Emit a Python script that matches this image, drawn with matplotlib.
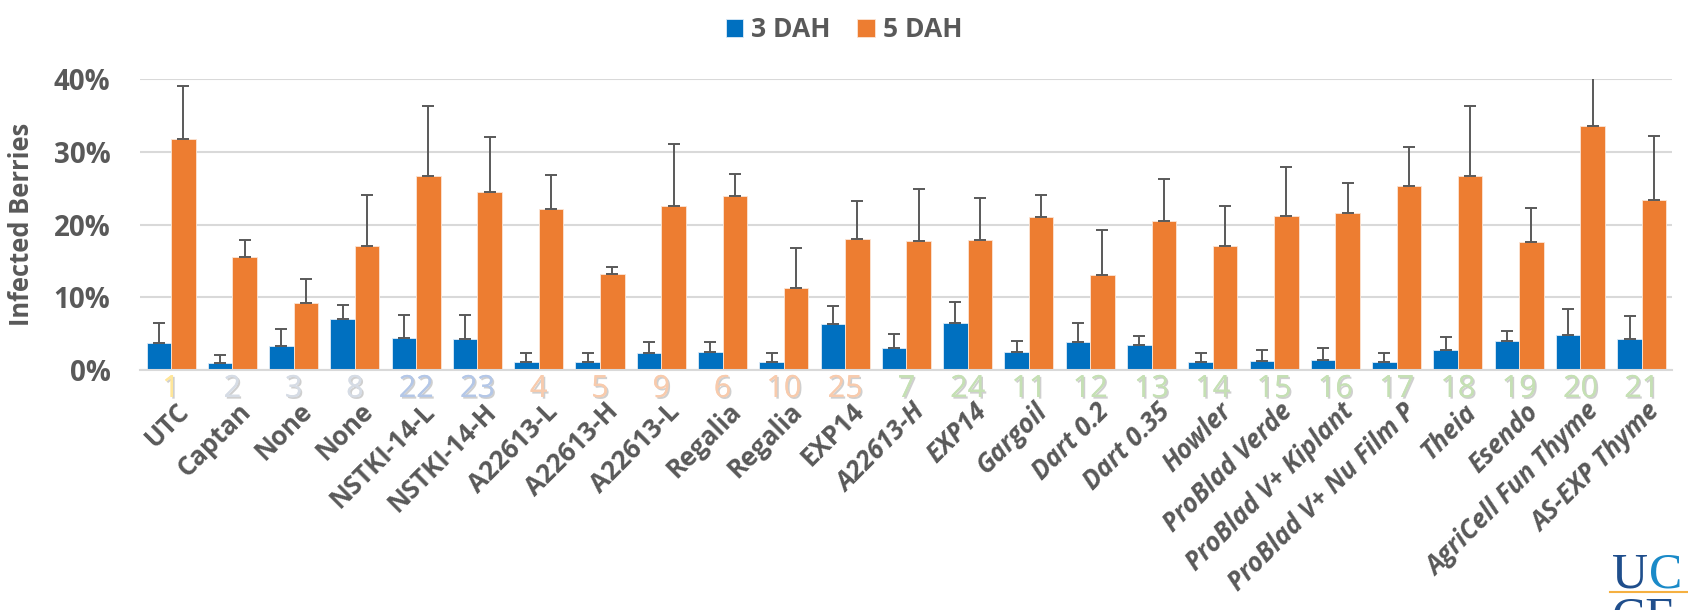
import matplotlib
matplotlib.use("Agg")
import matplotlib.pyplot as plt
import matplotlib.transforms as mtransforms
import matplotlib.patheffects as pe
import numpy as np

categories = ["UTC", "Captan", "None", "None", "NSTKI-14-L", "NSTKI-14-H", "A22613-L",
              "A22613-H", "A22613-L", "Regalia", "Regalia", "EXP14", "A22613-H", "EXP14",
              "Gargoil", "Dart 0.2", "Dart 0.35", "Howler", "ProBlad Verde",
              "ProBlad V+ Kiplant", "ProBlad V+ Nu Film P", "Theia", "Esendo",
              "AgriCell Fun Thyme", "AS-EXP Thyme"]
numbers = ["1", "2", "3", "8", "22", "23", "4", "5", "9", "6", "10", "25", "7", "24",
           "11", "12", "13", "14", "15", "16", "17", "18", "19", "20", "21"]
number_groups = ["y", "g", "g", "g", "b", "b", "p", "p", "p", "p", "p", "p", "G", "G",
                 "G", "G", "G", "G", "G", "G", "G", "G", "G", "G", "G"]

dah3 = [3.7, 1.0, 3.3, 7.0, 4.4, 4.3, 1.1, 1.1, 2.4, 2.5, 1.1, 6.3, 3.0, 6.4,
        2.5, 3.8, 3.5, 1.1, 1.3, 1.4, 1.05, 2.7, 4.0, 4.8, 4.3]
dah3_err_top = [6.4, 2.1, 5.7, 8.9, 7.6, 7.5, 2.3, 2.4, 3.9, 3.9, 2.4, 8.8, 4.9, 9.4,
                4.0, 6.4, 4.7, 2.4, 2.8, 3.0, 2.3, 4.5, 5.4, 8.4, 7.4]
dah5 = [31.7, 15.6, 9.2, 17.0, 26.6, 24.4, 22.1, 13.2, 22.6, 23.9, 11.3, 18.0, 17.7, 17.9,
        21.0, 13.0, 20.5, 17.1, 21.2, 21.6, 25.3, 26.6, 17.6, 33.5, 23.3]
dah5_err_top = [39.1, 17.9, 12.5, 24.1, 36.3, 32.0, 26.8, 14.2, 31.1, 27.0, 16.8, 23.2, 24.9, 23.7,
                24.0, 19.2, 26.2, 22.6, 27.9, 25.7, 30.6, 36.3, 22.3, 42.0, 32.1]

series_names = ["3 DAH", "5 DAH"]
yticks = [0, 10, 20, 30, 40]

BLUE = "#0070C0"
ORANGE = "#ED7D31"
GREY = "#595959"
num_colors = {"y": "#FFE699", "g": "#D6DCE5", "b": "#B4C7E7", "p": "#F8CBAD", "G": "#C5E0B4"}

plt.rcParams["font.family"] = ["Open Sans", "DejaVu Sans"]

fig = plt.figure(figsize=(16.88, 6.10), dpi=100)
ax = fig.add_axes([140.4 / 1688, 1 - 370 / 610, 1532 / 1688, 291 / 610])

x = np.arange(len(categories))
w = 0.40
e3 = np.array(dah3_err_top) - np.array(dah3)
e5 = np.array(dah5_err_top) - np.array(dah5)

ax.bar(x - w / 2, dah3, w, color=BLUE, edgecolor="#DDEBF7", linewidth=0.6, zorder=2,
       label=series_names[0])
ax.bar(x + w / 2, dah5, w, color=ORANGE, edgecolor="#FBE5D6", linewidth=0.6, zorder=2,
       label=series_names[1])
ax.errorbar(x - w / 2, dah3, yerr=[np.zeros_like(e3), e3], fmt="none", ecolor=GREY,
            elinewidth=1.4, capsize=4, capthick=1.4, zorder=3)
ax.errorbar(x + w / 2, dah5, yerr=[np.zeros_like(e5), e5], fmt="none", ecolor=GREY,
            elinewidth=1.4, capsize=4, capthick=1.4, zorder=3)

ax.set_xlim(-0.5, len(categories) - 0.5)
ax.set_ylim(0, 40)
ax.set_yticks(yticks)
ax.set_yticklabels([f"{t}%" for t in yticks], fontsize=20, fontweight="bold", color=GREY)
ax.tick_params(axis="y", length=0, pad=21.5)
ax.yaxis.grid(True, color="#D9D9D9", linewidth=1.5, zorder=0)
ax.set_axisbelow(True)
for s in ["top", "right", "left"]:
    ax.spines[s].set_visible(False)
ax.spines["bottom"].set_color("#D9D9D9")
ax.spines["bottom"].set_linewidth(1.5)
ax.set_ylabel("Infected Berries", fontsize=18.4, fontweight="bold", color=GREY)
ax.yaxis.set_label_coords(-0.0688, 0.5)

ax.set_xticks(x)
ax.set_xticklabels(categories, rotation=45, ha="right", rotation_mode="anchor",
                   fontsize=18.5, fontweight="bold", color=GREY)
ax.tick_params(axis="x", length=0, pad=20)
shift = mtransforms.ScaledTranslation(5 / 100, 0, fig.dpi_scale_trans)
for i, lab in enumerate(ax.get_xticklabels()):
    lab.set_transform(lab.get_transform() + shift)
    if i >= 12:
        lab.set_fontstyle("italic")

trans = mtransforms.blended_transform_factory(ax.transData, ax.transAxes)
for xi, num, grp in zip(x, numbers, number_groups):
    ax.text(xi, -27 / 291, num, transform=trans, ha="center", va="baseline",
            fontsize=22, color=num_colors[grp],
            path_effects=[pe.withSimplePatchShadow(offset=(1.2, -1.2), shadow_rgbFace="#A0A0A0", alpha=0.5),
                          pe.Normal()])

leg = fig.legend(loc="upper center", bbox_to_anchor=(0.5, 1.012), ncol=2, frameon=False,
                 prop={"size": 19, "weight": "bold"}, handlelength=0.67, handleheight=0.67,
                 handletextpad=0.3, columnspacing=1.0)
for t in leg.get_texts():
    t.set_color(GREY)

# UC logo fragment (bottom right)
fig.text(1612 / 1688, 1 - 587 / 610, "U", fontsize=36, color="#1F4E8C",
         family="Liberation Serif", ha="left", va="baseline")
fig.text(1649 / 1688, 1 - 587 / 610, "C", fontsize=36, color="#1A8AC8",
         family="Liberation Serif", ha="left", va="baseline")
fig.add_artist(plt.Line2D([1610 / 1688, 1.0], [1 - 592 / 610, 1 - 592 / 610],
                          color="#F5B041", linewidth=1.5, transform=fig.transFigure))
fig.text(1612 / 1688, 1 - 632 / 610, "CE", fontsize=36, color="#1F4E8C",
         family="Liberation Serif", ha="left", va="baseline")

fig.savefig("out.png", dpi=100)
